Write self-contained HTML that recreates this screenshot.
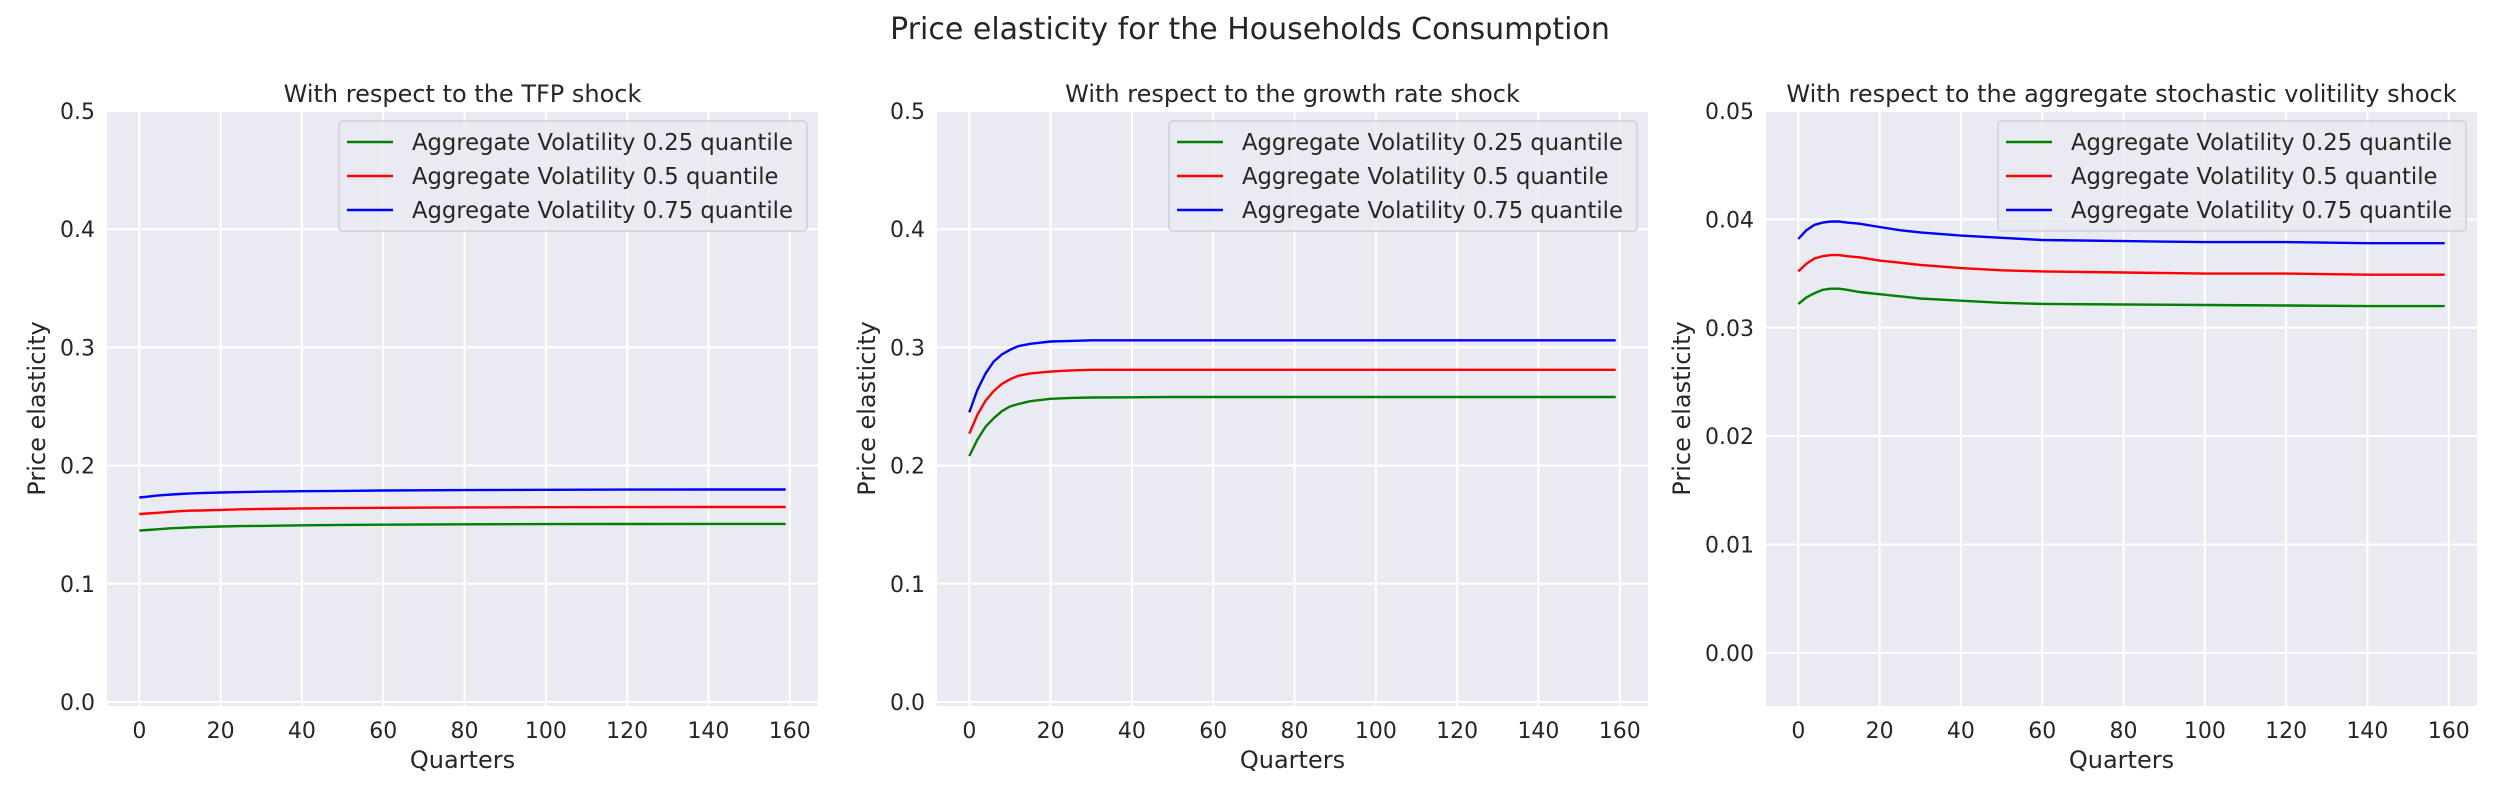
<!DOCTYPE html>
<html><head><meta charset="utf-8">
<style>
html,body{margin:0;padding:0;background:#fff;}
svg{display:block;font-family:"DejaVu Sans","Liberation Sans",sans-serif;}
</style></head>
<body>
<svg id="fig" width="2500" height="800" viewBox="0 0 2500 800" xmlns="http://www.w3.org/2000/svg">
<rect width="2500" height="800" fill="#fff"/>
<text x="1250" y="39" text-anchor="middle" font-size="30" fill="#262626">Price elasticity for the Households Consumption</text>
</svg>
<script>
const quarters = [0,2,4,6,8,10,12,15,20,25,30,40,50,60,80,100,120,140,159];
const seriesNames = ["Aggregate Volatility 0.25 quantile","Aggregate Volatility 0.5 quantile","Aggregate Volatility 0.75 quantile"];
const panelTitles = ["With respect to the TFP shock","With respect to the growth rate shock","With respect to the aggregate stochastic volitility shock"];
const xTicks = [0,20,40,60,80,100,120,140,160];
const yTicksA = [0.0,0.1,0.2,0.3,0.4,0.5];
const yTickLabelsA = ["0.0","0.1","0.2","0.3","0.4","0.5"];
const yTicksC = [0.00,0.01,0.02,0.03,0.04,0.05];
const yTickLabelsC = ["0.00","0.01","0.02","0.03","0.04","0.05"];
const tfpLow  = [.145,.1455,.146,.1465,.147,.1473,.1476,.148,.1485,.1488,.149,.1495,.1498,.15,.1503,.1505,.1506,.1507,.1507];
const tfpMid  = [.159,.1595,.160,.1605,.161,.1614,.1618,.162,.1625,.163,.1633,.1638,.164,.1643,.1646,.1648,.1649,.165,.165];
const tfpHigh = [.173,.1737,.1745,.175,.1755,.176,.1763,.1767,.1772,.1776,.1779,.1783,.1786,.1789,.1793,.1795,.1797,.1798,.1798];
const grLow  = [.208,.222,.233,.240,.246,.250,.252,.2545,.2565,.2573,.2576,.2578,.258,.258,.258,.258,.258,.258,.258];
const grMid  = [.227,.243,.255,.263,.269,.273,.276,.278,.2795,.2805,.281,.281,.281,.281,.281,.281,.281,.281,.281];
const grHigh = [.245,.264,.278,.288,.294,.298,.301,.303,.305,.3055,.306,.306,.306,.306,.306,.306,.306,.306,.306];
const svLow  = [.0322,.0328,.0332,.0335,.0336,.0336,.0335,.0333,.0331,.0329,.0327,.0325,.0323,.0322,.03215,.0321,.03205,.0320,.0320];
const svMid  = [.0352,.0359,.0364,.0366,.0367,.0367,.0366,.0365,.0362,.0360,.0358,.0355,.0353,.0352,.0351,.0350,.0350,.0349,.0349];
const svHigh = [.0382,.0390,.0395,.0397,.0398,.0398,.0397,.0396,.0393,.0390,.0388,.0385,.0383,.0381,.0380,.0379,.0379,.0378,.0378];

const NS = "http://www.w3.org/2000/svg";
const fig = document.getElementById('fig');
const colors = ["#008000","#ff0000","#0000ff"];
function mk(tag, attrs, parent){const e=document.createElementNS(NS,tag);for(const k in attrs)e.setAttribute(k,attrs[k]);(parent||fig).appendChild(e);return e;}

const panels = [
  {left:107, ymin:-0.0034, ymax:0.5, ticks:yTicksA, labels:yTickLabelsA, data:[tfpLow,tfpMid,tfpHigh], name:"tfp"},
  {left:937, ymin:-0.0034, ymax:0.5, ticks:yTicksA, labels:yTickLabelsA, data:[grLow,grMid,grHigh], name:"growth"},
  {left:1766, ymin:-0.0049, ymax:0.05, ticks:yTicksC, labels:yTickLabelsC, data:[svLow,svMid,svHigh], name:"volatility"}
];
const plotTop=111, plotBottom=706, plotWidth=711;
panels.forEach((p,pi)=>{
  const L=p.left, R=L+plotWidth;
  const xs = v => L + (v + 7.95) / (166.95 + 7.95) * plotWidth;
  const ys = v => plotBottom - (v - p.ymin) / (p.ymax - p.ymin) * (plotBottom - plotTop);
  const g = mk('g',{});
  
  
  const bg = mk('rect',{x:L,y:plotTop,width:plotWidth,height:plotBottom-plotTop,fill:"#eaeaf2"},g);
  
  
  xTicks.forEach(t=>{
    const x=xs(t);
    const gl=mk('line',{x1:x,x2:x,y1:plotTop,y2:plotBottom,stroke:"#fff","stroke-width":2},g);
    
    
    const tl=mk('text',{x:x,y:738,"text-anchor":"middle","font-size":22,fill:"#262626"},g);
    tl.textContent=t;
    
    
  });
  p.ticks.forEach((t,i)=>{
    const y=ys(t);
    const gl=mk('line',{x1:L,x2:R,y1:y,y2:y,stroke:"#fff","stroke-width":2},g);
    
    
    const tl=mk('text',{x:L-12,y:y+8,"text-anchor":"end","font-size":22,fill:"#262626"},g);
    tl.textContent=p.labels[i];
    
    
  });
  p.data.forEach((arr,si)=>{
    const pts=arr.map((v,i)=>xs(quarters[i]).toFixed(1)+","+ys(v).toFixed(1)).join(" ");
    const pl=mk('polyline',{points:pts,fill:"none",stroke:colors[si],"stroke-width":2.4,"stroke-linejoin":"round"},g);
    
    
  });
  const tt=mk('text',{x:(L+R)/2,y:plotTop-9,"text-anchor":"middle","font-size":24,fill:"#262626"},g);
  tt.textContent=panelTitles[pi];
  
  
  const xl=mk('text',{x:(L+R)/2,y:768,"text-anchor":"middle","font-size":24,fill:"#262626"},g);
  xl.textContent="Quarters";
  
  
  const ylx = L-62 - (pi===2?14:0);
  const ylc = (plotTop+plotBottom)/2;
  const yl=mk('text',{x:ylx,y:ylc,"text-anchor":"middle","font-size":24,fill:"#262626",transform:`rotate(-90 ${ylx} ${ylc})`},g);
  yl.textContent="Price elasticity";
  
  
  const lw=468, lx=R-11-lw, ly=121;
  const lg=mk('g',{},g);
  
  
  mk('rect',{x:lx,y:ly,width:lw,height:110,rx:4,fill:"#eaeaf2","fill-opacity":0.8,stroke:"#d0d0d8","stroke-width":1.5},lg);
  seriesNames.forEach((n,si)=>{
    const ry=ly+21+si*34;
    const ln=mk('line',{x1:lx+8,x2:lx+54,y1:ry,y2:ry,stroke:colors[si],"stroke-width":2.4},lg);
    
    
    const t=mk('text',{x:lx+73,y:ry+8,"font-size":22.7,fill:"#262626"},lg);
    t.textContent=n;
    
    
  });
});
</script>
</body></html>
